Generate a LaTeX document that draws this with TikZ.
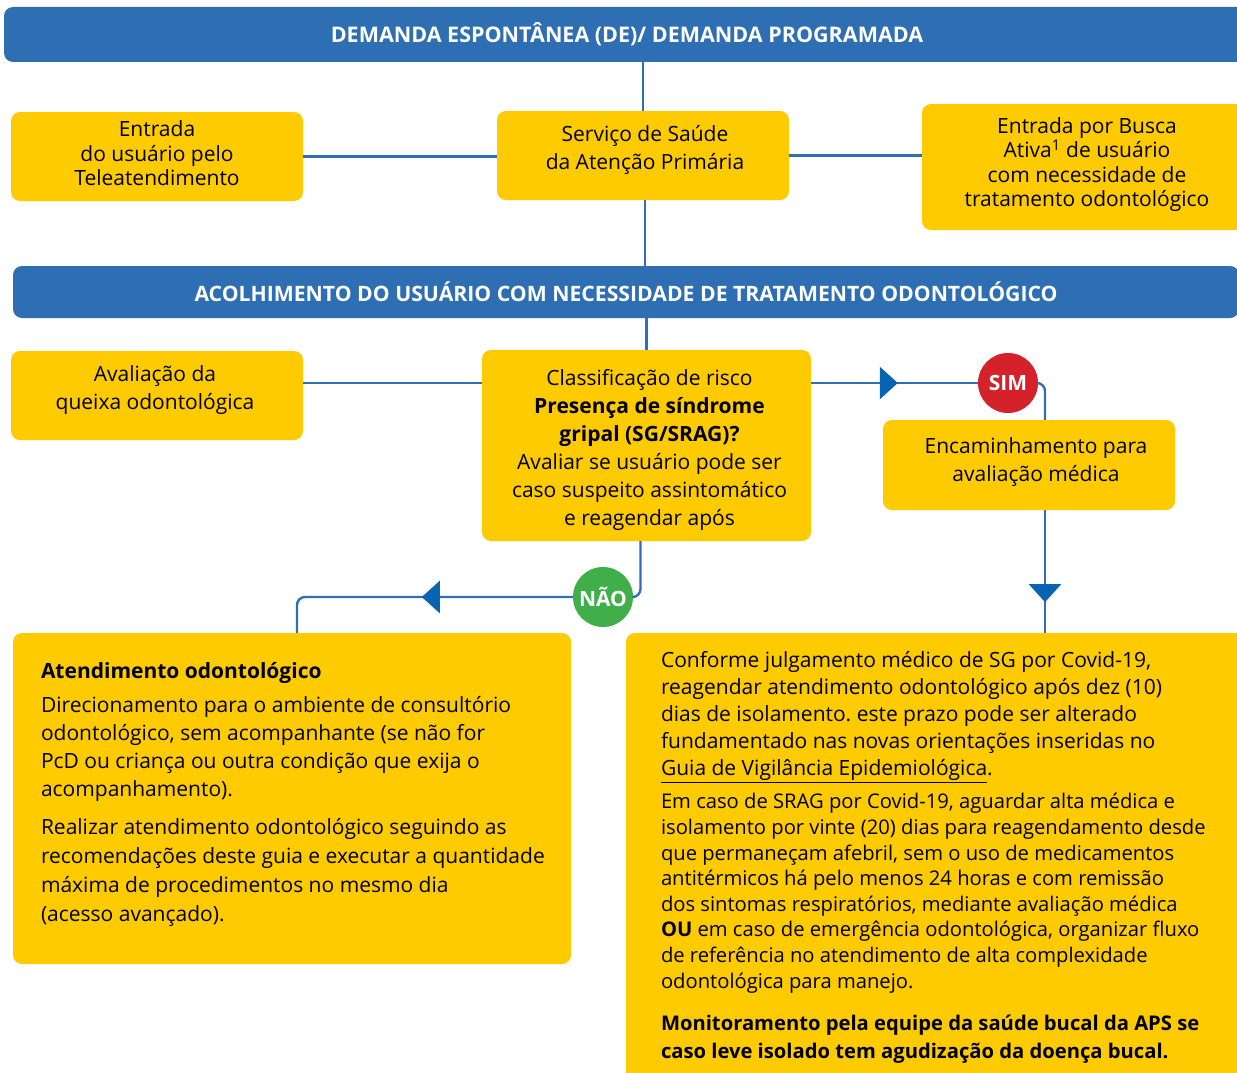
\documentclass[tikz,border=0pt]{standalone}
\usepackage{fontspec}
\setmainfont{Open Sans}
\frenchspacing
\usetikzlibrary{arrows.meta,decorations.markings}
\definecolor{barblue}{RGB}{46,110,178}
\definecolor{lineblue}{RGB}{48,110,182}
\definecolor{tipblue}{RGB}{8,100,178}
\definecolor{boxyellow}{RGB}{254,202,0}
\definecolor{simred}{RGB}{212,33,42}
\definecolor{naogreen}{RGB}{64,174,73}
\newcommand{\smallbody}{\fontsize{20.2}{25.6}\selectfont}
\tikzset{
	yellow box/.style={rectangle, rounded corners=9pt, fill=boxyellow, inner sep=0pt},
	box text/.style={align=center, inner sep=0pt, font=\fontsize{21}{28}\selectfont},
	tight text/.style={align=center, inner sep=0pt, font=\fontsize{21}{24.5}\selectfont},
	blue bar/.style={rectangle, rounded corners=9pt, fill=barblue, text=white, inner sep=0pt, font=\fontsize{21.5}{24}\selectfont\bfseries},
	sim node/.style={circle, fill=simred, text=white, minimum size=60pt, inner sep=0pt, font=\fontsize{21}{24}\selectfont\bfseries},
	nao node/.style={circle, fill=naogreen, text=white, minimum size=60pt, inner sep=0pt, font=\fontsize{21}{24}\selectfont\bfseries},
	body text/.style={anchor=north west, align=left, inner sep=0pt},
	link/.style={draw=lineblue, line width=2.4pt},
	mid tip/.style={postaction={decorate, decoration={markings, mark=at position #1 with {\arrow[tipblue]{Triangle[width=32pt,length=18pt]}}}}},
}
\begin{document}
\begin{tikzpicture}[x=1pt, y=-1pt]
\useasboundingbox (0,0) rectangle (1237,1073);

              \node[blue bar, minimum width=1246pt, minimum height=55pt] (dem) at (627,34.5) {\raisebox{3pt}{DEMANDA ESPONTÂNEA (DE)/ DEMANDA PROGRAMADA}};
              \node[yellow box, minimum width=292pt, minimum height=89pt,
                label={[tight text, yshift=3pt]center:Entrada\\do usuário pelo\\Teleatendimento}] (tele) at (157,156.5) {};
              \node[yellow box, minimum width=292pt, minimum height=89pt,
                label={[box text, xshift=2pt, yshift=6pt]center:Serviço de Saúde\\da Atenção Primária}] (serv) at (643,155.5) {};
              \node[yellow box, minimum width=330pt, minimum height=126pt,
                label={[tight text, yshift=2.5pt]center:Entrada por Busca\\Ativa\textsuperscript{1} de usuário\\com necessidade de\\tratamento odontológico}] (busca) at (1087,167) {};
              \node[blue bar, minimum width=1226pt, minimum height=52pt, font=\fontsize{21.2}{24}\selectfont\bfseries] (acol) at (626,292) {ACOLHIMENTO DO USUÁRIO COM NECESSIDADE DE TRATAMENTO ODONTOLÓGICO};

              \node[yellow box, minimum width=292pt, minimum height=89pt,
                label={[box text, xshift=-2pt, yshift=5pt]center:Avaliação da\\queixa odontológica}] (aval) at (157,395.5) {};
              \node[yellow box, minimum width=329pt, minimum height=191pt,
                label={[box text, xshift=3pt, yshift=-4pt]center:Classificação de risco\\\textbf{Presença de síndrome}\\\textbf{gripal (SG/SRAG)?}\\Avaliar se usuário pode ser\\caso suspeito assintomático\\e reagendar após}] (clas) at (646.5,445.5) {};
              \node[sim node] (sim) at (1008,383) {SIM};
              \node[yellow box, minimum width=292pt, minimum height=90pt,
                label={[box text, xshift=7pt, yshift=3pt]center:Encaminhamento para\\avaliação médica}] (enc) at (1029,465) {};
              \node[nao node] (nao) at (603,597) {NÃO};

              \node[yellow box, minimum width=558pt, minimum height=331pt] (atend) at (292,798.5) {};
              \node[body text, font=\fontsize{21}{28}\selectfont] (atend text) at ([shift={(28pt,-29pt)}]atend.north west) {\textbf{Atendimento odontológico}\\[6pt]
                Direcionamento para o ambiente de consultório\\
                odontológico, sem acompanhante (se não for\\
                PcD ou criança ou outra condição que exija o\\
                acompanhamento).\\[10pt]
                Realizar atendimento odontológico seguindo as\\[1.3pt]
                recomendações deste guia e executar a quantidade\\[1.3pt]
                máxima de procedimentos no mesmo dia\\[1.3pt]
                (acesso avançado).};
              \node[yellow box, minimum width=624pt, minimum height=457pt] (cov) at (938,861.5) {};
              \node[body text, font=\fontsize{21}{25.6}\selectfont] (cov text) at ([shift={(35pt,-18pt)}]cov.north west) {Conforme julgamento médico de SG por Covid-19,\\[1.6pt]
                reagendar atendimento odontológico após dez (10)\\[1.6pt]
                dias de isolamento. este prazo pode ser alterado\\[1.6pt]
                fundamentado nas novas orientações inseridas no\\[1.6pt]
                \underline{Guia de Vigilância Epidemiológica}.\\[7.4pt]
                \smallbody Em caso de SRAG por Covid-19, aguardar alta médica e\\
                \smallbody isolamento por vinte (20) dias para reagendamento desde\\
                \smallbody que permaneçam afebril, sem o uso de medicamentos\\
                \smallbody antitérmicos há pelo menos 24 horas e com remissão\\
                \smallbody dos sintomas respiratórios, mediante avaliação médica\\
                \smallbody \textbf{OU} em caso de emergência odontológica, organizar fluxo\\
                \smallbody de referência no atendimento de alta complexidade\\
                \smallbody odontológica para manejo.\\[16.4pt]
                \smallbody\bfseries Monitoramento pela equipe da saúde bucal da APS se\\[2.4pt]
                \smallbody\bfseries caso leve isolado tem agudização da doença bucal.};

              \draw[link] (serv.north) -- (serv.north |- dem.south);
              \draw[link] (tele.east) -- (serv.west |- tele.east);
              \draw[link] (serv.east) -- (serv.east -| busca.west);
              \draw[link] ([xshift=2pt]serv.south) -- ([xshift=2pt]serv.south |- acol.north);
              \draw[link] (clas.north |- acol.south) -- (clas.north);
              \draw[link] (aval.east |- sim) -- (clas.west |- sim);
              \draw[link, mid tip=0.52] (sim -| clas.east) -- (sim.west);
              \draw[link, rounded corners=8pt] (sim.east) -| ([xshift=16pt]enc.north);
              \draw[link, mid tip=0.75] ([xshift=16pt]enc.south) -- ([xshift=16pt]enc.south |- cov.north);
              \draw[link, rounded corners=8pt] ([xshift=-6pt]clas.south) |- (nao.east);
              \draw[link, rounded corners=8pt, mid tip=0.49] (nao.west) -| ([xshift=5pt]atend.north);

\end{tikzpicture}
\end{document}
